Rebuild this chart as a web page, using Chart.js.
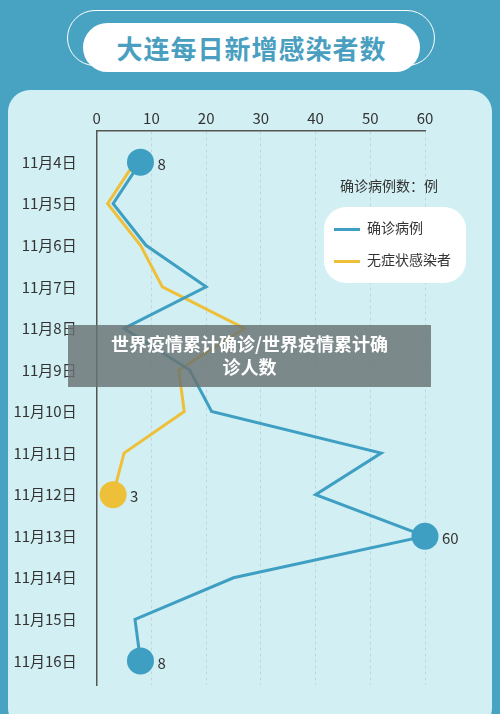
<!DOCTYPE html>
<html><head><meta charset="utf-8">
<script src="https://cdn.jsdelivr.net/npm/chart.js@4"></script>
<style>
body{margin:0;width:500px;height:714px;background:#48a3c3;position:relative;overflow:hidden;font-family:"Noto Sans CJK SC","Noto Sans",sans-serif}
#outline{position:absolute;left:67px;top:10px;width:366px;height:54px;border:1.5px solid #fff;border-radius:30px}
#title{position:absolute;left:83px;top:23px;width:337px;height:49px;background:#fff;border-radius:26px;color:#4a9fc0;font-weight:bold;font-size:26px;text-align:center;line-height:49px;letter-spacing:1px}
#panel{position:absolute;left:8px;top:90px;width:484px;height:640px;background:#d2eff3;border-radius:22px}
#wrap{position:absolute;left:0;top:90px;width:500px;height:624px}
#unit{position:absolute;left:340px;top:175px;font-size:14px;color:#333}
#legend{position:absolute;left:324px;top:207px;width:142px;height:76px;background:#fff;border-radius:22px;font-size:14px;color:#333}
#legend div{position:absolute;left:10px;height:20px;line-height:20px}
#legend span{display:inline-block;width:26px;height:3px;margin-right:7px;vertical-align:middle}
#banner{position:absolute;left:68px;top:325px;width:363px;height:62px;background:rgba(105,115,115,0.82);color:#fff;font-weight:bold;font-size:18px;text-align:center;line-height:23px;padding-top:7px;box-sizing:border-box}
</style></head><body>
<div id="outline"></div>
<div id="title">大连每日新增感染者数</div>
<div id="panel"></div>
<div id="wrap"><canvas id="c" width="500" height="624"></canvas></div>
<div id="unit">确诊病例数：例</div>
<div id="legend">
<div style="top:10px"><span style="background:#3e9fc3"></span>确诊病例</div>
<div style="top:42px"><span style="background:#eec03a"></span>无症状感染者</div>
</div>
<div id="banner">世界疫情累计确诊/世界疫情累计确<br>诊人数</div>
<script>
const dates = ["11月4日","11月5日","11月6日","11月7日","11月8日","11月9日","11月10日","11月11日","11月12日","11月13日","11月14日","11月15日","11月16日"];
const confirmed = [8, 3, 9, 20, 5, 17, 21, 52, 40, 60, 25, 7, 8];
const asymptomatic = [7, 2, 8, 12, 27, 15, 16, 5, 3];
const xTicks = [0, 10, 20, 30, 40, 50, 60];

const blue = "#3e9fc3", yellow = "#eec03a";
const pts = arr => arr.map((v, i) => ({x: v, y: i}));

const endLabels = {
  id: "endLabels",
  afterDatasetsDraw(chart) {
    const ctx = chart.ctx;
    ctx.save();
    ctx.font = "15px 'Noto Sans CJK SC'";
    ctx.fillStyle = "#333";
    ctx.textBaseline = "middle";
    chart.data.datasets.forEach((ds, di) => {
      const meta = chart.getDatasetMeta(di);
      ds.labelIdx.forEach(i => {
        const p = meta.data[i];
        ctx.fillText(String(ds.data[i].x), p.x + 17, p.y + 2);
      });
    });
    ctx.restore();
  }
};

new Chart(document.getElementById("c"), {
  type: "line",
  data: {
    datasets: [
      {
        label: "确诊病例", data: pts(confirmed), borderColor: blue, backgroundColor: blue,
        borderWidth: 3, tension: 0, labelIdx: [0, 9, 12], clip: false,
        pointRadius: c => [0, 9, 12].includes(c.dataIndex) ? 12 : 0
      },
      {
        label: "无症状感染者", data: pts(asymptomatic), borderColor: yellow, backgroundColor: yellow,
        borderWidth: 3, tension: 0, labelIdx: [8], clip: false,
        pointRadius: c => c.dataIndex === 8 ? 12 : 0
      }
    ]
  },
  options: {
    responsive: false,
    animation: false,
    layout: {padding: {top: 0, right: 75, bottom: 29, left: 0}},
    plugins: {legend: {display: false}, tooltip: {enabled: false}},
    scales: {
      x: {
        type: "linear", position: "top", min: 0, max: 60,
        afterBuildTicks: s => { s.ticks = xTicks.map(v => ({value: v})); },
        afterFit: s => { s.height = 41; },
        ticks: {color: "#333", font: {size: 15, family: "Noto Sans CJK SC"}, padding: 4},
        grid: {color: "#c2d6da", drawTicks: false},
        border: {display: true, color: "#555", width: 1.5, dash: [3, 3]}
      },
      y: {
        type: "linear", reverse: true, min: -0.75, max: 12.58,
        afterBuildTicks: s => { s.ticks = dates.map((d, i) => ({value: i})); },
        afterFit: s => { s.width = 96.7; },
        ticks: {color: "#333", font: {size: 15, family: "Noto Sans CJK SC"}, padding: 12,
          callback: v => dates[v]},
        grid: {display: false},
        border: {display: true, color: "#555", width: 1.5}
      }
    }
  },
  plugins: [endLabels]
});
</script>
</body></html>
